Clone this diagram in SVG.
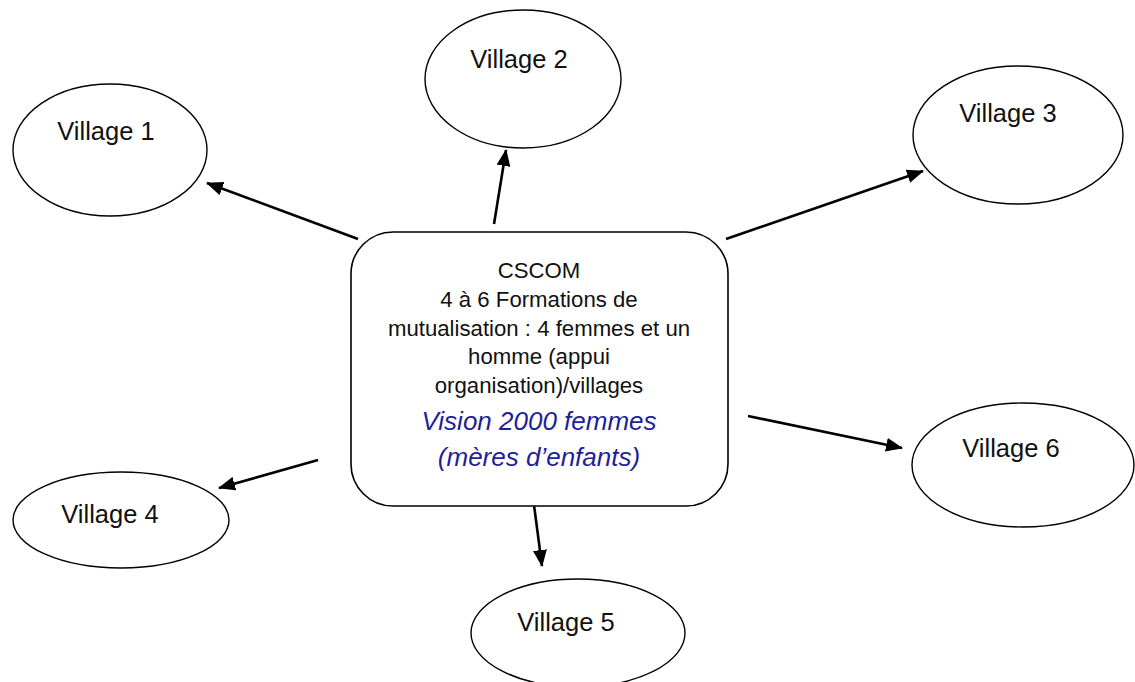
<svg xmlns="http://www.w3.org/2000/svg" width="1135" height="682" viewBox="0 0 1135 682">
<defs>
<marker id="ah" markerUnits="userSpaceOnUse" markerWidth="17" markerHeight="14" refX="16" refY="7" orient="auto">
<path d="M0,0 L17,7 L0,14 z" fill="#000"/>
</marker>
<style>
.v{fill:#fff;stroke:#000;stroke-width:1.4}
.vt{font-family:"Liberation Sans",Arial,sans-serif;font-size:25.5px;fill:#111;text-anchor:middle}
.ct{font-family:"Liberation Sans",Arial,sans-serif;font-size:22.2px;fill:#111;text-anchor:middle}
.it{font-family:"Liberation Sans",Arial,sans-serif;font-size:26px;font-style:italic;fill:#1f1f9a;text-anchor:middle}
.c line{stroke:#000;stroke-width:2.6;marker-end:url(#ah)}
</style>
</defs>
<rect width="1135" height="682" fill="#fff"/>
<g class="c" id="connectors">
<line x1="358" y1="239" x2="207" y2="183"/>
<line x1="494" y1="224" x2="506" y2="150"/>
<line x1="726" y1="239" x2="923" y2="171"/>
<line x1="318" y1="460" x2="219" y2="488"/>
<line x1="748" y1="416" x2="902" y2="448"/>
<line x1="534" y1="505" x2="542" y2="566"/>
</g>
<g id="cscom">
<rect x="351" y="232" width="377" height="274" rx="42" ry="42" fill="#fff" stroke="#000" stroke-width="1.6"/>
<text class="ct" x="539" y="278">CSCOM</text>
<text class="ct" x="539" y="307">4 à 6 Formations de</text>
<text class="ct" x="539" y="336">mutualisation : 4 femmes et un</text>
<text class="ct" x="539" y="364">homme (appui</text>
<text class="ct" x="539" y="393">organisation)/villages</text>
<text class="it" x="539" y="430">Vision 2000 femmes</text>
<text class="it" x="539" y="466">(mères d’enfants)</text>
</g>
<g id="village1"><ellipse class="v" cx="110" cy="150" rx="97" ry="66"/><text class="vt" x="106" y="140">Village 1</text></g>
<g id="village2"><ellipse class="v" cx="523" cy="79" rx="98" ry="69"/><text class="vt" x="519" y="68">Village 2</text></g>
<g id="village3"><ellipse class="v" cx="1018" cy="135" rx="105" ry="69"/><text class="vt" x="1008" y="122">Village 3</text></g>
<g id="village4"><ellipse class="v" cx="121" cy="520" rx="108" ry="48"/><text class="vt" x="110" y="523">Village 4</text></g>
<g id="village5"><ellipse class="v" cx="578" cy="633" rx="107" ry="54"/><text class="vt" x="566" y="631">Village 5</text></g>
<g id="village6"><ellipse class="v" cx="1023" cy="465" rx="111" ry="62"/><text class="vt" x="1011" y="457">Village 6</text></g>
</svg>
